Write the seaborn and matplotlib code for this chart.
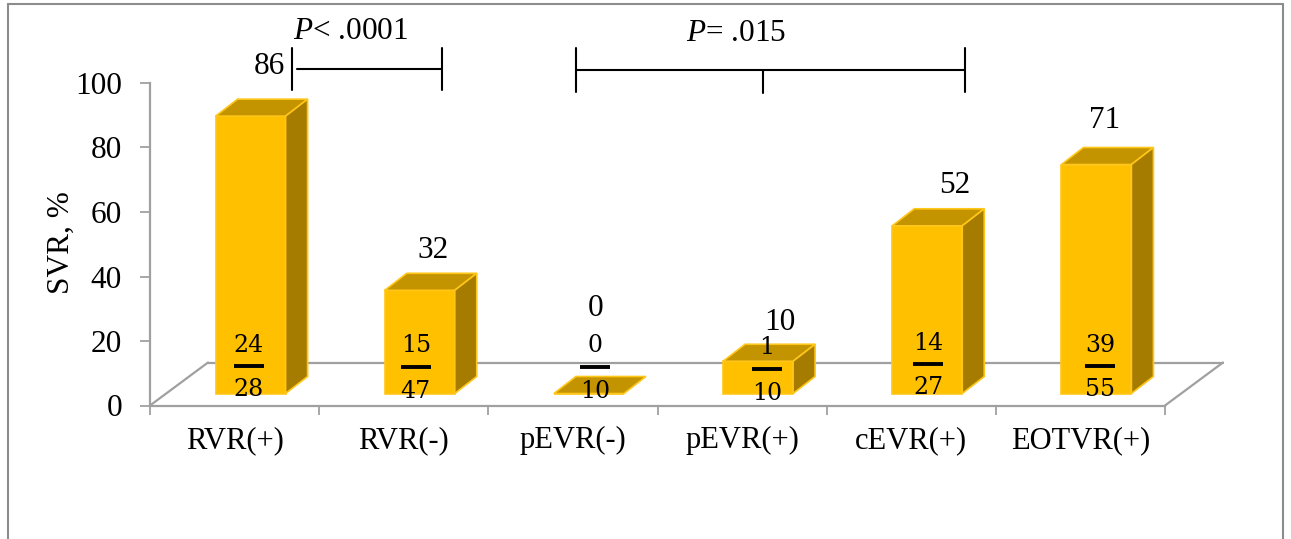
import matplotlib
matplotlib.use("Agg")
import matplotlib.pyplot as plt
import seaborn as sns
import pandas as pd
from matplotlib.patches import Polygon
from matplotlib.lines import Line2D

# ---- data -------------------------------------------------------------
groups = ["RVR(+)", "RVR(-)", "pEVR(-)", "pEVR(+)", "cEVR(+)", "EOTVR(+)"]
svr_pct = [86, 32, 0, 10, 52, 71]
responders = [24, 15, 0, 1, 14, 39]
patients = [28, 47, 10, 10, 27, 55]
y_ticks = [0, 20, 40, 60, 80, 100]
p_text = [r"$P$< .0001", r"$P$= .015"]

# ---- style ------------------------------------------------------------
GOLD = "#FFC000"
GOLD_TOP = "#C39300"
GOLD_SIDE = "#A67C00"
EDGE = "#FFC61A"
GRAY = "#A0A0A0"
FRAME = "#8C8C8C"

sns.set_theme(style="white")
plt.rcParams["font.family"] = ["Liberation Serif", "DejaVu Serif"]
plt.rcParams["mathtext.fontset"] = "custom"
plt.rcParams["mathtext.it"] = "Liberation Serif:italic"
plt.rcParams["mathtext.rm"] = "Liberation Serif"
plt.rcParams["text.color"] = "black"

W, H, DPI = 1291, 539, 100
fig = plt.figure(figsize=(W / DPI, H / DPI), dpi=DPI)

# plot area (pixel columns of the first/last category edge, rows of 0 and 100)
X0, X1 = 150, 1165
Y0, Y1 = 405.5, 83
ax = fig.add_axes([X0 / W, (H - Y0) / H, (X1 - X0) / W, (Y0 - Y1) / H])
ax.set_facecolor("none")
n = len(groups)
px_x = (X1 - X0) / n      # pixels per category
px_y = (Y0 - Y1) / 100    # pixels per percent


def dx(p):
    return p / px_x


def dy(p):
    return p / px_y


# pseudo-3D geometry (pixels)
FRONT = (16, 12)    # bar front face sits slightly back on the floor
DEPTH = (22, 17)    # bar depth
FLOOR = (58, 43)    # floor depth
BAR_W = 70

df = pd.DataFrame({"group": groups, "svr": svr_pct})
sns.barplot(data=df, x="group", y="svr", color=GOLD, saturation=1,
            width=BAR_W / px_x, errorbar=None, edgecolor=EDGE,
            linewidth=1.2, ax=ax, zorder=3)

ax.set_xlim(-0.5, n - 0.5)
ax.set_ylim(0, 100)

# floor outline
fx, fy = dx(FLOOR[0]), dy(FLOOR[1])
for xs, ys in [([-0.5 + fx, n - 0.5 + fx], [fy, fy]),
               ([-0.5, -0.5 + fx], [0, fy]),
               ([n - 0.5, n - 0.5 + fx], [0, fy])]:
    ax.add_line(Line2D(xs, ys, color=GRAY, lw=1.6, zorder=1, clip_on=False))

# shift the front faces and add top / side faces
ddx, ddy = dx(DEPTH[0]), dy(DEPTH[1])
for bar in ax.patches:
    bar.set_x(bar.get_x() + dx(FRONT[0]))
    bar.set_y(bar.get_y() + dy(FRONT[1]))
    bar.set_clip_on(False)
    x0 = bar.get_x()
    x1 = x0 + bar.get_width()
    b = bar.get_y()
    t = b + bar.get_height()
    top = Polygon([(x0, t), (x1, t), (x1 + ddx, t + ddy), (x0 + ddx, t + ddy)],
                  closed=True, facecolor=GOLD_TOP, edgecolor=EDGE, lw=1.2,
                  zorder=3, clip_on=False)
    ax.add_patch(top)
    if bar.get_height() > 0:
        side = Polygon([(x1, b), (x1 + ddx, b + ddy), (x1 + ddx, t + ddy), (x1, t)],
                       closed=True, facecolor=GOLD_SIDE, edgecolor=EDGE, lw=1.2,
                       zorder=3, clip_on=False)
        ax.add_patch(side)

# axes, ticks
for s in ["top", "right"]:
    ax.spines[s].set_visible(False)
for s in ["left", "bottom"]:
    ax.spines[s].set_color(GRAY)
    ax.spines[s].set_linewidth(1.6)
ax.set_yticks(y_ticks)
ax.set_yticklabels([str(v) for v in y_ticks])
ax.tick_params(axis="y", length=7.2, width=1.3, color=GRAY, pad=13,
               labelsize=22.5, labelcolor="black", left=True)
ax.set_xticks(range(n))
ax.set_xticklabels(groups)
ax.tick_params(axis="x", which="major", length=0, pad=15, labelsize=22,
               labelcolor="black")
ax.set_xticks([i - 0.5 for i in range(n + 1)], minor=True)
ax.tick_params(axis="x", which="minor", length=6.5, width=1.3, color=GRAY,
               bottom=True)
ax.set_xlabel("")
ax.set_ylabel("")

# value labels above the bars
lab_dx = [19, 13, 7, 22, 27, 8]       # px, from the front-face centre
lab_up = [53, 43, 88, 42, 43, 47]     # px, label centre above front top
for i, v in enumerate(svr_pct):
    cx = i + dx(FRONT[0] + lab_dx[i])
    y = v + dy(FRONT[1]) + dy(lab_up[i] - 10.5)
    ax.text(cx, y, f"{v}", ha="center", va="baseline", fontsize=22.5,
            color="black", clip_on=False, zorder=5)

# n/N fractions on the bars
frac_dx = [-2, -4, 6, 9, 1, 4]        # px, from the front-face centre
frac_row = [366, 367, 367, 369, 364, 366]   # pixel row of each fraction bar
for i, (a, b) in enumerate(zip(responders, patients)):
    cx = i + dx(FRONT[0] + frac_dx[i])
    r = frac_row[i]
    ax.add_line(Line2D([cx - dx(15), cx + dx(15)], [dy(Y0 - r)] * 2,
                       color="black", lw=2.8, zorder=6, clip_on=False,
                       solid_capstyle="butt"))
    ax.text(cx, dy(Y0 - (r - 14.5)), f"{a}", ha="center", va="baseline",
            fontsize=17, family="DejaVu Serif", color="black", zorder=6,
            clip_on=False)
    ax.text(cx, dy(Y0 - (r + 30.5)), f"{b}", ha="center", va="baseline",
            fontsize=17, family="DejaVu Serif", color="black", zorder=6,
            clip_on=False)


# significance brackets
def px2x(p):
    return (p - X0) / px_x - 0.5


def px2y(p):
    return (Y0 - p) / px_y


def seg(x_a, y_a, x_b, y_b):
    ax.add_line(Line2D([px2x(x_a), px2x(x_b)], [px2y(y_a), px2y(y_b)],
                       color="black", lw=1.5, clip_on=False, zorder=5))


seg(292, 48, 292, 90)
seg(297, 69, 442, 69)
seg(442, 48, 442, 90)
ax.text(px2x(351), px2y(39), p_text[0], ha="center", va="baseline",
        fontsize=22.5, color="black", clip_on=False)

seg(576, 48, 576, 92)
seg(576, 70, 965, 70)
seg(763, 70, 763, 93)
seg(965, 48, 965, 92)
ax.text(px2x(736), px2y(41), p_text[1], ha="center", va="baseline",
        fontsize=22.5, color="black", clip_on=False)

# y-axis title
fig.text(61 / W, 1 - 243 / H, "SVR, %", rotation=90, ha="center",
         va="center", fontsize=22.5, color="black")

# outer frame
for xs, ys in [([8, 8], [4, H]), ([8, 1283], [4, 4]), ([1283, 1283], [4, H])]:
    fig.add_artist(Line2D([x / W for x in xs], [1 - y / H for y in ys],
                          transform=fig.transFigure, color=FRAME, lw=1.5))

fig.savefig("out.png", dpi=DPI)
